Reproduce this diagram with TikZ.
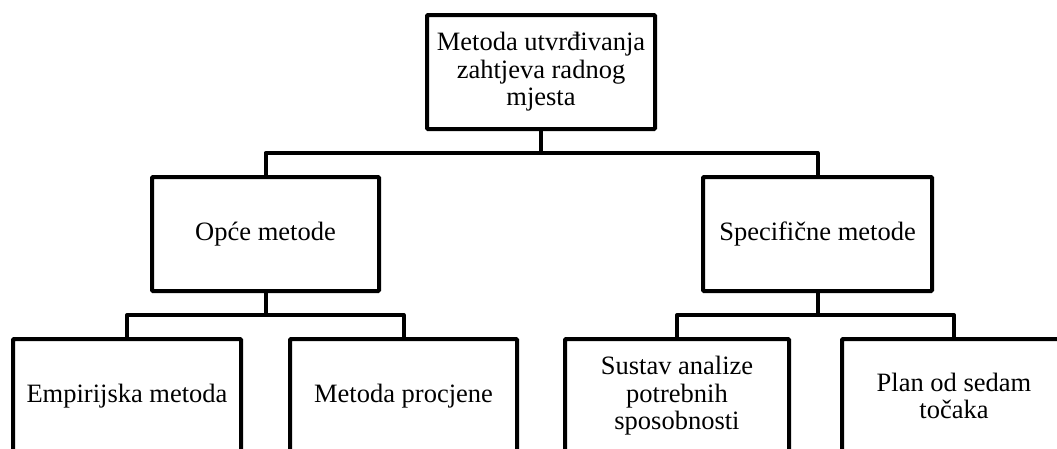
\documentclass[tikz,border=0pt]{standalone}
\usepackage{fontspec}
\setmainfont{Liberation Serif}
\begin{document}
\begin{tikzpicture}[x=1pt,y=-1pt,
  box/.style={draw=black, line width=4pt, rectangle, rounded corners=1pt, fill=white,
    minimum height=114pt, align=center, inner sep=0pt,
    font=\fontsize{26.5}{27.5}\selectfont},
  conn/.style={draw=black, line width=4pt, line join=round}]
\useasboundingbox (0,0) rectangle (1057,448);
\clip (0,0) rectangle (1057,448);
\fill[white] (0,0) rectangle (1057,448);
\node[box, minimum width=228pt] (top) at (541,72) {Metoda utvrđivanja\\zahtjeva radnog\\mjesta};
\node[box, minimum width=227pt] (opce) at (265.5,234) {Opće metode};
\node[box, minimum width=229pt] (spec) at (817.5,234) {Specifične metode};
\node[box, minimum width=228pt] (emp) at (127,396) {Empirijska metoda};
\node[box, minimum width=227pt] (proc) at (403.5,396) {Metoda procjene};
\node[box, minimum width=224pt] (sust) at (677,396) {Sustav analize\\potrebnih\\sposobnosti};
\node[box, minimum width=224pt] (plan) at (954,396) {Plan od sedam\\točaka};
\coordinate (j1) at (0,153);
\coordinate (j2) at (0,315);
\draw[conn] (opce.north) |- (spec.north |- j1) -- (spec.north);
\draw[conn] (top.south) -- (top.south |- j1);
\draw[conn] (emp.north) |- (proc.north |- j2) -- (proc.north);
\draw[conn] (opce.south) -- (opce.south |- j2);
\draw[conn] (sust.north) |- (plan.north |- j2) -- (plan.north);
\draw[conn] (spec.south) -- (spec.south |- j2);
\end{tikzpicture}
\end{document}
